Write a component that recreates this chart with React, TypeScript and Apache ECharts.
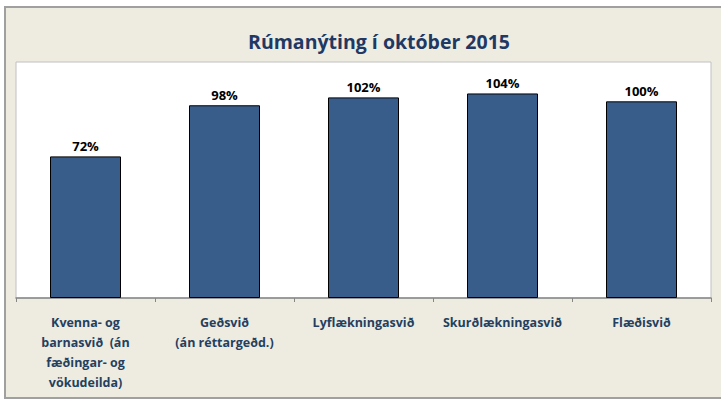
import React, { useEffect, useRef } from "react";
import * as echarts from "echarts";

const categories = [
  "Kvenna- og\nbarnasvið  (án\nfæðingar- og\nvökudeilda)",
  "Geðsvið\n(án réttargeðd.)",
  "Lyflækningasvið",
  "Skurðlækningasvið",
  "Flæðisvið",
];
const values = [72, 98, 102, 104, 100];
const titleText = "Rúmanýting í október 2015";

const FONT = "Open Sans";

export default function App() {
  const ref = useRef<HTMLDivElement>(null);
  useEffect(() => {
    document.body.style.margin = "0";
    const chart = echarts.init(ref.current!, null, { renderer: "svg" });
    chart.setOption({
      animation: false,
      backgroundColor: "#ffffff",
      graphic: [
        {
          type: "rect",
          z: -10,
          silent: true,
          shape: { x: 5, y: 7, width: 740, height: 391 },
          style: { fill: "#eeece1", stroke: "#a0a0a0", lineWidth: 2 },
        },
      ],
      title: {
        text: titleText,
        left: 374,
        textAlign: "center",
        top: 26,
        textStyle: {
          fontFamily: FONT,
          fontWeight: "bold",
          fontSize: 19.5,
          color: "#1f3864",
        },
      },
      grid: {
        left: 16,
        right: 10,
        top: 62,
        bottom: 103,
        show: true,
        backgroundColor: "#ffffff",
        borderColor: "#c0c0c0",
        borderWidth: 1,
      },
      xAxis: {
        type: "category",
        data: categories,
        axisLine: { lineStyle: { color: "#868686", width: 1.5 } },
        axisTick: { show: true, length: 4, lineStyle: { color: "#868686" } },
        axisLabel: {
          interval: 0,
          margin: 14,
          fontFamily: FONT,
          fontWeight: "bold",
          fontSize: 12.5,
          lineHeight: 20,
          color: "#243f60",
          verticalAlign: "top",
        },
      },
      yAxis: {
        type: "value",
        min: 0,
        max: 120,
        show: false,
        splitLine: { show: false },
      },
      series: [
        {
          type: "bar",
          data: values,
          barWidth: 71,
          itemStyle: { color: "#385d8a", borderColor: "#000000", borderWidth: 1 },
          label: {
            show: true,
            position: "top",
            distance: 4,
            formatter: "{c}%",
            fontFamily: FONT,
            fontWeight: "bold",
            fontSize: 13,
            color: "#000000",
          },
        },
      ],
    });
    return () => chart.dispose();
  }, []);
  return (
    <div
      ref={ref}
      style={{ position: "absolute", left: 0, top: 0, width: 721, height: 401 }}
    />
  );
}
